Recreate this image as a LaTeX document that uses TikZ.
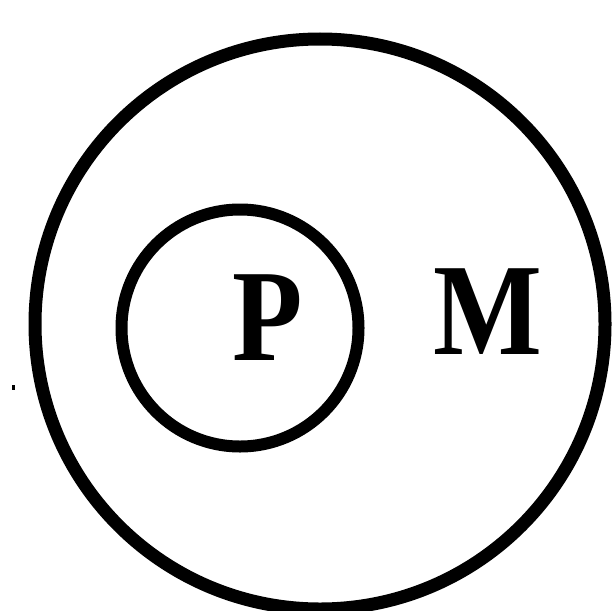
\documentclass[tikz,border=0pt]{standalone}
\usepackage{fontspec}
\setmainfont{Liberation Serif}
\begin{document}
\begin{tikzpicture}[x=1pt,y=-1pt,
  ring/.style={draw=black, circle, inner sep=0pt},
  letter/.style={inner sep=0pt, font=\fontsize{131}{131}\selectfont\bfseries, xscale=0.88}]
\clip (0,0) rectangle (612,610);
\fill[white] (0,0) rectangle (612,610);
\node[ring, line width=13pt, minimum size=570pt] (outer) at (320,324) {};
\node[ring, line width=12pt, minimum size=237pt] (inner) at (240,328) {};
\node[letter, anchor=base] (p) at (268,360) {P};
\node[letter, anchor=base] (m) at (488,354) {M};
\fill[black] (12,385) rectangle (15,390);
\end{tikzpicture}
\end{document}
